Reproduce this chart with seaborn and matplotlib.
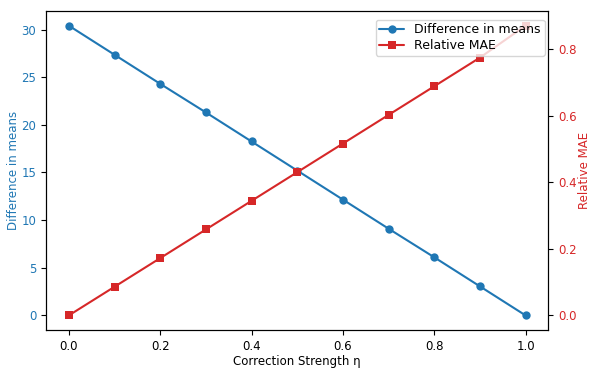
import numpy as np
import pandas as pd
import matplotlib
matplotlib.use('Agg')
import matplotlib.pyplot as plt
import seaborn as sns

eta = [0.0, 0.1, 0.2, 0.3, 0.4, 0.5, 0.6, 0.7, 0.8, 0.9, 1.0]
diff_means = [30.4, 27.35, 24.3, 21.3, 18.25, 15.2, 12.15, 9.1, 6.1, 3.05, 0.0]
rel_mae = [0.0, 0.086, 0.172, 0.258, 0.344, 0.43, 0.516, 0.602, 0.688, 0.774, 0.87]

sns.set_style('ticks', {'axes.edgecolor': 'black', 'xtick.color': 'black',
                        'ytick.color': 'black', 'text.color': 'black',
                        'axes.labelcolor': 'black'})
plt.rcParams['font.family'] = ['DejaVu Sans']
plt.rcParams['font.size'] = 8.5

df = pd.DataFrame({'eta': eta, 'diff': diff_means, 'mae': rel_mae})

fig, ax1 = plt.subplots(figsize=(5.98, 3.74), dpi=100)
ax2 = ax1.twinx()

sns.lineplot(data=df, x='eta', y='diff', ax=ax1, color='tab:blue', marker='o',
             markersize=6, markeredgewidth=0, label='Difference in means', legend=False)
sns.lineplot(data=df, x='eta', y='mae', ax=ax2, color='tab:red', marker='s',
             markersize=6, markeredgewidth=0, label='Relative MAE', legend=False)

ax1.set_xlabel('Correction Strength η', labelpad=2)
ax1.set_ylabel('Difference in means', color='tab:blue', labelpad=1)
ax2.set_ylabel('Relative MAE', color='tab:red', labelpad=1)
ax1.tick_params(axis='y', labelcolor='tab:blue')
ax2.tick_params(axis='y', labelcolor='tab:red')
ax1.set_xticks([0.0, 0.2, 0.4, 0.6, 0.8, 1.0])
ax2.set_yticks([0.0, 0.2, 0.4, 0.6, 0.8])

h1, l1 = ax1.get_legend_handles_labels()
h2, l2 = ax2.get_legend_handles_labels()
ax2.legend(h1 + h2, l1 + l2, loc='upper right', bbox_to_anchor=(1.0, 0.985),
           fontsize=9, handlelength=2, borderpad=0.3, labelspacing=0.2,
           borderaxespad=0.3)

plt.subplots_adjust(left=0.077, right=0.917, top=0.97, bottom=0.118)
plt.savefig('out.png', dpi=100)
